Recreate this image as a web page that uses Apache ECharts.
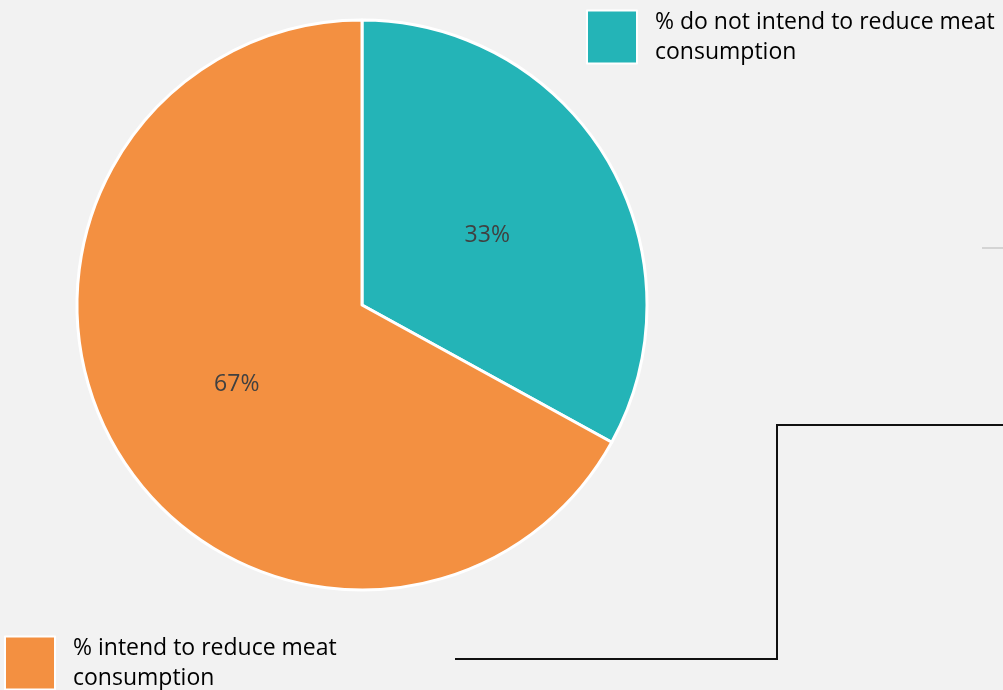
<!DOCTYPE html>
<html>
<head>
<meta charset="utf-8">
<script src="https://cdn.jsdelivr.net/npm/echarts@6/dist/echarts.min.js"></script>
<style>
  html, body { margin: 0; padding: 0; background: #f2f2f2; }
  #chart { width: 1003px; height: 690px; }
</style>
</head>
<body>
<div id="chart"></div>
<script>
// Share of respondents by intention to cut meat consumption
const categories = [
  '% do not intend to reduce meat consumption',
  '% intend to reduce meat consumption'
];
const shares = [33, 67];
const colors = ['#24b4b7', '#f39041'];

const chart = echarts.init(document.getElementById('chart'));

const FONT = '"Open Sans", "Noto Sans", sans-serif';

const legendText = {
  fontFamily: FONT,
  fontSize: 23,
  color: '#000000',
  lineHeight: 30,
  overflow: 'break',
  padding: [0, 0, 0, 13]
};

chart.setOption({
  backgroundColor: '#f2f2f2',
  animation: false,
  color: colors,
  legend: [
    {
      data: [categories[0]],
      left: 586,
      top: 7,
      padding: 0,
      orient: 'vertical',
      icon: 'rect',
      itemWidth: 50,
      itemHeight: 53,
      textStyle: Object.assign({}, legendText, { width: 360 })
    },
    {
      data: [categories[1]],
      left: 4,
      top: 633,
      padding: 0,
      orient: 'vertical',
      icon: 'rect',
      itemWidth: 50,
      itemHeight: 53,
      textStyle: Object.assign({}, legendText, { width: 290 })
    }
  ],
  series: [{
    type: 'pie',
    center: [362, 305],
    radius: [0, 285],
    startAngle: 90,
    clockwise: true,
    label: {
      show: true,
      position: 'inside',
      formatter: '{d}%',
      fontFamily: FONT,
      fontSize: 23,
      color: '#404040',
      offset: [0, 5]
    },
    labelLine: { show: false },
    itemStyle: { borderColor: '#ffffff', borderWidth: 3 },
    emphasis: { disabled: true },
    data: categories.map((name, i) => ({ name, value: shares[i] }))
  }],
  graphic: [
    {
      type: 'polyline',
      shape: { points: [[455, 659], [777, 659], [777, 425], [1003, 425]] },
      style: { stroke: '#111111', lineWidth: 2, fill: null }
    },
    {
      type: 'line',
      shape: { x1: 982, y1: 248, x2: 1003, y2: 248 },
      style: { stroke: '#d4d4d4', lineWidth: 2 }
    }
  ]
});
</script>
</body>
</html>
